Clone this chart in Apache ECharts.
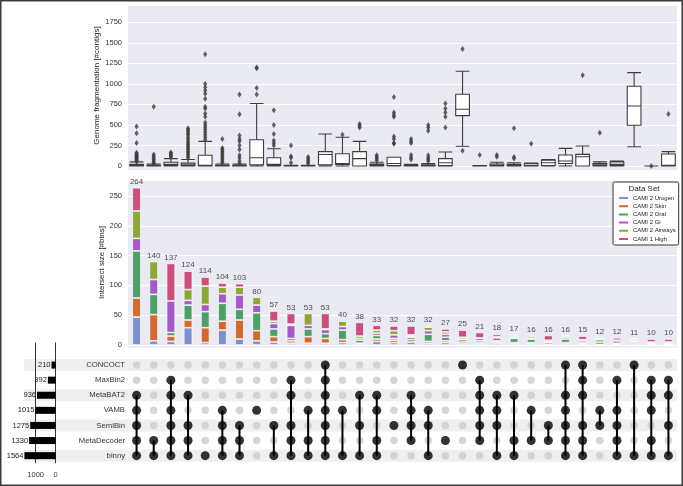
<!DOCTYPE html>
<html>
<head>
<meta charset="utf-8">
<script src="https://cdn.jsdelivr.net/npm/echarts@6/dist/echarts.min.js"></script>
<style>
  html, body { margin: 0; padding: 0; background: #fff; }
  #chart { width: 683px; height: 486px; }
</style>
</head>
<body>
<div id="chart"></div>
<script>
// sets (top to bottom in the matrix) and their sizes
const setNames = ["CONCOCT", "MaxBin2", "MetaBAT2", "VAMB", "SemiBin", "MetaDecoder", "binny"];
const setSizes = [210, 392, 936, 1015, 1275, 1330, 1564];

// intersections, left to right
const intersectTotals = [264, 140, 137, 124, 114, 104, 103, 80, 57, 53, 53, 53, 40, 38, 33, 32, 32, 32, 27, 25, 21, 18, 17, 16, 16, 16, 15, 12, 12, 11, 10, 10];
const memberships = [
  [2, 3, 4, 5, 6], [5, 6], [1, 2, 3, 4, 5, 6], [2, 4, 5, 6], [6], [3, 4, 5, 6], [4, 5, 6], [3],
  [4, 6], [1, 2, 4, 5, 6], [3, 5, 6], [0, 1, 2, 3, 4, 5, 6], [3, 6], [2, 4, 6], [2, 3, 5, 6], [4],
  [2, 3, 4, 5], [3, 4, 6], [5], [0], [1, 2, 3, 4, 5], [2, 3, 4, 6], [2, 5, 6], [3, 5],
  [4, 5], [0, 2, 3, 4, 5, 6], [0, 1, 2, 4, 5, 6], [3, 4], [1, 3, 4, 5, 6], [0, 6], [1, 2, 3, 5, 6], [1, 2, 4, 6]
];

// stacked bins per data set
const dataSets = ["CAMI 2 Urogen", "CAMI 2 Skin", "CAMI 2 Oral", "CAMI 2 Gi", "CAMI 2 Airways", "CAMI 1 High"];
const urogen  = [47, 7, 6, 29, 4, 25, 10, 7, 5, 3, 3, 3, 4, 2, 6, 4, 5, 3, 4, 2, 2, 3, 2, 2, 1, 2, 1, 1, 1, 2, 1, 1];
const skin    = [32, 44, 9, 13, 25, 15, 32, 17, 9, 4, 11, 8, 5, 1, 4, 4, 4, 3, 3, 3, 2, 2, 2, 2, 3, 2, 2, 4, 1, 3, 1, 1];
const oral    = [79, 34, 6, 25, 27, 30, 18, 30, 13, 4, 13, 8, 16, 5, 6, 3, 4, 12, 6, 4, 3, 2, 7, 6, 1, 6, 1, 4, 1, 1, 1, 1];
const gi      = [21, 25, 53, 8, 12, 16, 24, 13, 9, 22, 6, 7, 6, 3, 4, 6, 2, 6, 5, 1, 4, 5, 2, 1, 1, 3, 3, 1, 4, 1, 1, 1];
const airways = [46, 30, 0, 18, 31, 11, 13, 13, 4, 2, 20, 1, 9, 4, 5, 7, 2, 6, 4, 3, 1, 2, 2, 3, 2, 2, 2, 1, 1, 3, 1, 1];
const high    = [39, 0, 63, 31, 15, 7, 6, 0, 17, 18, 0, 26, 0, 23, 8, 8, 15, 2, 5, 12, 9, 4, 2, 2, 8, 1, 6, 1, 4, 1, 5, 5];
const dataColors = ["#7f8fcb", "#d16a30", "#4f9d69", "#a45ac6", "#8da63a", "#c94f7e"];

// genome fragmentation boxes: [low whisker, q1, median, q3, high whisker]
const boxStats = [
  [0, 0, 5, 20, 50], [0, 0, 3, 10, 25], [0, 5, 20, 45, 90], [0, 5, 15, 35, 80],
  [0, 0, 10, 130, 300], [0, 0, 3, 10, 25], [0, 0, 3, 10, 25], [0, 15, 100, 320, 760],
  [0, 10, 20, 100, 210], [0, 0, 2, 5, 10], [0, 0, 2, 5, 10], [0, 15, 140, 175, 390],
  [0, 20, 30, 150, 350], [0, 0, 90, 175, 300], [0, 5, 15, 25, 45], [0, 5, 30, 106, 106],
  [0, 0, 5, 10, 20], [0, 0, 5, 15, 30], [0, 5, 40, 90, 170], [240, 613, 690, 873, 1153],
  [0, 0, 0, 2, 5], [0, 0, 10, 25, 45], [0, 0, 10, 20, 40], [0, 0, 10, 30, 35],
  [0, 5, 40, 72, 80], [0, 30, 60, 134, 215], [0, 0, 113, 141, 243], [0, 5, 15, 30, 50],
  [0, 5, 20, 50, 60], [235, 496, 731, 971, 1137], [0, 0, 0, 0, 0], [0, 0, 10, 146, 175]
];
const outliers = [
  [480, 400, 280, 160, 150, 140, 130, 120, 110, 100, 90, 80, 70, 60, 55],
  [720, 140, 120, 100, 80, 60, 40, 30],
  [110, 125, 140, 155, 165],
  [460, 440, 420, 400, 380, 350, 330, 300, 280, 260, 240, 220, 200, 180, 160, 140, 120, 100],
  [320, 350, 380, 410, 440, 470, 500, 530, 600, 640, 700, 720, 820, 880, 920, 960, 1000, 1360],
  [330, 220, 200, 180, 160, 140, 120, 100, 80, 60, 40],
  [870, 630, 370, 330, 300, 250, 200, 130, 100, 60, 30],
  [870, 950, 1190, 1200],
  [250, 280, 310, 390, 500, 680],
  [250, 120, 100, 40],
  [110, 90, 70, 50, 30],
  [],
  [380],
  [470, 490, 510],
  [130, 110, 90, 70],
  [840, 650, 620, 600, 360, 330, 280, 270],
  [330, 300, 280, 135, 105, 80],
  [500, 470, 430, 130, 100, 80, 60],
  [760, 700, 650, 600, 470],
  [1425, 187],
  [134],
  [134, 113],
  [459, 110, 90],
  [272],
  [],
  [],
  [1104],
  [406],
  [],
  [],
  [0],
  [633]
];

const cats = intersectTotals.map((_, i) => String(i));
const rowCats = [""].concat(setNames);
const STRIPE_LEFT = 24;

const chart = echarts.init(document.getElementById("chart"));

const outlierPoints = [];
outliers.forEach((list, c) => list.forEach((v) => outlierPoints.push([c, v])));

const greyDots = [];
const blackDots = [];
const links = [];
memberships.forEach((m, c) => {
  setNames.forEach((_, r) => {
    if (m.includes(r)) blackDots.push([c, r + 1]);
    else greyDots.push([c, r + 1]);
  });
  if (m.length > 1) links.push([c, Math.min(...m) + 1, Math.max(...m) + 1]);
});

const stackSeries = [urogen, skin, oral, gi, airways, high].map((vals, k) => ({
  name: dataSets[k],
  type: "bar",
  xAxisIndex: 1,
  yAxisIndex: 1,
  stack: "bins",
  barWidth: 8.6,
  data: vals.map((v) => (v === 0 ? "-" : v)),
  itemStyle: { color: dataColors[k], borderColor: "#fff", borderWidth: 0.7 },
  emphasis: { disabled: true },
}));

const plain = (v) => String(v);
const tickLabel = { fontSize: 7.5, color: "#333", formatter: plain };

chart.setOption({
  animation: false,
  textStyle: { fontFamily: "Liberation Sans, Arial, sans-serif" },
  graphic: [
    { type: "rect", z: -10, shape: { x: 128, y: 5, width: 549, height: 165 }, style: { fill: "#eaeaf2" } },
    { type: "rect", z: -10, shape: { x: 128, y: 180, width: 549, height: 167.5 }, style: { fill: "#eaeaf2" } },
    { type: "text", z: 100, x: 644, y: 188.5, style: { text: "Data Set", fontSize: 8, fill: "#222", align: "center", verticalAlign: "middle" } },
    { type: "rect", z: 100, shape: { x: 0.75, y: 0.75, width: 681.5, height: 484.5 }, style: { fill: "none", stroke: "#3a3a3a", lineWidth: 1.5 } },
  ],
  legend: {
    data: dataSets,
    orient: "vertical",
    left: 613,
    top: 182,
    padding: [13, 3, 3, 4],
    itemWidth: 11,
    itemHeight: 4,
    itemGap: 2.2,
    icon: "rect",
    backgroundColor: "#fff",
    borderColor: "#333",
    borderWidth: 1,
    borderRadius: 1.5,
    textStyle: { fontSize: 6, color: "#222", padding: [0, 0, 0, -1] },
  },
  grid: [
    { left: 128, right: 6, top: 5, height: 161 },
    { left: 128, right: 6, top: 180, height: 165 },
    { left: 128, right: 6, top: 342.4, height: 120.8 },
    { left: 23.7, right: 627.3, top: 342.4, height: 120.8 },
  ],
  xAxis: [
    { gridIndex: 0, type: "category", data: cats, show: false },
    { gridIndex: 1, type: "category", data: cats, show: false },
    { gridIndex: 2, type: "category", data: cats, show: false },
    {
      gridIndex: 3, type: "value", inverse: true, min: 0, max: 1600, interval: 1000,
      axisLine: { show: false }, axisTick: { show: false },
      axisLabel: Object.assign({ margin: 8, showMaxLabel: false }, tickLabel),
      splitLine: { show: true, showMaxLine: false, lineStyle: { color: "#333", width: 1 } },
    },
  ],
  yAxis: [
    {
      gridIndex: 0, type: "value", min: 0, max: 1960, interval: 250,
      axisLine: { show: false }, axisTick: { show: false },
      axisLabel: Object.assign({ margin: 6, showMaxLabel: false }, tickLabel),
      splitLine: { lineStyle: { color: "#fff", width: 1 } },
      name: "Genome fragmentation [#contigs]", nameLocation: "middle", nameGap: 27,
      nameMoveOverlap: false,
      nameTextStyle: { fontSize: 8, color: "#222" },
    },
    {
      gridIndex: 1, type: "value", min: 0, max: 277, interval: 50,
      axisLine: { show: false }, axisTick: { show: false },
      axisLabel: Object.assign({ margin: 6, showMaxLabel: false }, tickLabel),
      splitLine: { lineStyle: { color: "#fff", width: 1 } },
      name: "Intersect size [#bins]", nameLocation: "middle", nameGap: 22,
      nameMoveOverlap: false,
      nameTextStyle: { fontSize: 8, color: "#222" },
    },
    {
      gridIndex: 2, type: "category", data: rowCats, inverse: true,
      axisLine: { show: false }, axisTick: { show: false },
      axisLabel: { fontSize: 7.7, color: "#333", margin: 3 },
    },
    {
      gridIndex: 3, type: "category", data: rowCats, inverse: true, position: "right",
      axisLine: { show: false }, axisTick: { show: false }, axisLabel: { show: false },
    },
  ],
  series: [
    {
      type: "boxplot",
      xAxisIndex: 0, yAxisIndex: 0,
      boxWidth: [13.7, 13.7],
      data: boxStats,
      itemStyle: { color: "#fff", borderColor: "#3d3d3d", borderWidth: 1.1 },
      emphasis: { disabled: true },
    },
    {
      type: "scatter",
      xAxisIndex: 0, yAxisIndex: 0,
      data: outlierPoints,
      symbol: "diamond",
      symbolSize: [4.2, 6],
      clip: false,
      itemStyle: { color: "#3d3d3d" },
    },
    ...stackSeries,
    {
      type: "scatter",
      xAxisIndex: 1, yAxisIndex: 1,
      data: intersectTotals.map((t, i) => [i, t]),
      symbolSize: 0,
      label: { show: true, position: "top", distance: 2, fontSize: 8, color: "#222", formatter: (p) => p.value[1] },
    },
    {
      type: "custom",
      xAxisIndex: 2, yAxisIndex: 2,
      z: -1,
      data: [[0, 1], [0, 3], [0, 5], [0, 7]],
      encode: { x: 0, y: 1 },
      renderItem: (params, api) => {
        const y = api.coord([0, api.value(1)])[1];
        const cs = params.coordSys;
        return {
          type: "rect",
          shape: { x: STRIPE_LEFT, y: y - 6, width: cs.x + cs.width - STRIPE_LEFT, height: 12 },
          style: { fill: "#efefef" },
        };
      },
      silent: true,
    },
    {
      type: "scatter",
      xAxisIndex: 2, yAxisIndex: 2,
      data: greyDots,
      symbolSize: 7.5,
      z: 2,
      itemStyle: { color: "#cccccc" },
    },
    {
      type: "custom",
      xAxisIndex: 2, yAxisIndex: 2,
      z: 3,
      data: links,
      encode: { x: 0, y: [1, 2] },
      renderItem: (params, api) => {
        const a = api.coord([api.value(0), api.value(1)]);
        const b = api.coord([api.value(0), api.value(2)]);
        return {
          type: "line",
          shape: { x1: a[0], y1: a[1], x2: b[0], y2: b[1] },
          style: { stroke: "#000", lineWidth: 2 },
        };
      },
    },
    {
      type: "scatter",
      xAxisIndex: 2, yAxisIndex: 2,
      data: blackDots,
      symbolSize: 9,
      z: 4,
      itemStyle: { color: "#000" },
    },
    {
      type: "bar",
      xAxisIndex: 3, yAxisIndex: 3,
      data: setSizes.map((v, i) => [v, i + 1]),
      barWidth: 7,
      itemStyle: { color: "#000" },
      label: { show: true, position: "left", distance: 1, fontSize: 7.5, color: "#222" },
    },
  ],
});
</script>
</body>
</html>
